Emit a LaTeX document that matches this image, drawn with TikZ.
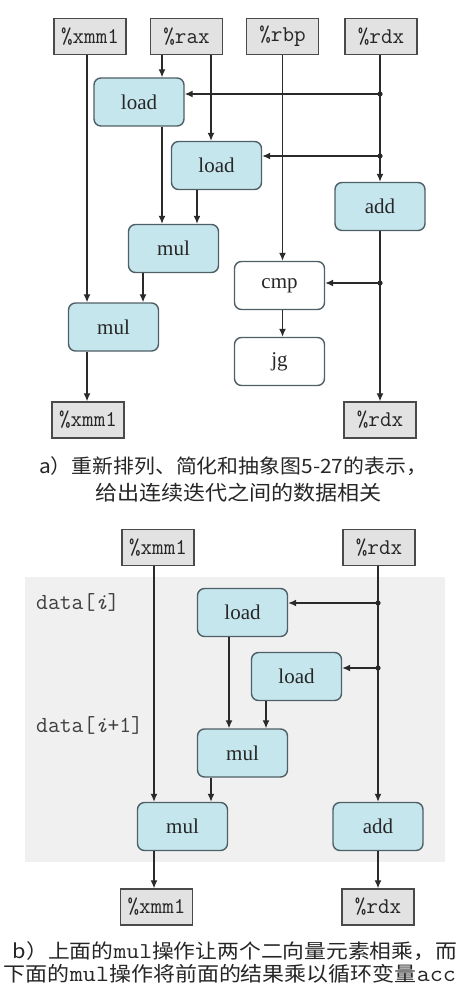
\documentclass[tikz,border=0pt]{standalone}
\usepackage{fontspec}
\setmainfont{Liberation Serif}
\newfontfamily\cjk{Noto Sans CJK SC}
\usetikzlibrary{arrows.meta}
\definecolor{opfill}{HTML}{C6E6EE}
\definecolor{opdraw}{HTML}{4F5F66}
\definecolor{regfill}{HTML}{E2E2E2}
\definecolor{regdraw}{HTML}{4A4A4A}
\definecolor{bgarea}{HTML}{F0F0F0}
\definecolor{wire}{HTML}{2A2A2A}
\newcommand{\capline}[3]{\resizebox*{#1}{#2}{\cjk\fontsize{20}{22}\selectfont #3}}
\newcommand{\captt}[1]{{\ttfamily\fontsize{23}{22}\selectfont #1}}
\begin{document}
\begin{tikzpicture}[x=1pt,y=-1pt,
  reg/.style={draw=regdraw, fill=regfill, line width=1.4pt, minimum width=72pt, minimum height=36pt, inner sep=0pt, font=\fontsize{22.5}{24}\ttfamily, text=black!85},
  op/.style={draw=opdraw, fill=opfill, rounded corners=7pt, line width=1.4pt, minimum width=90pt, minimum height=48pt, inner sep=0pt, font=\fontsize{21}{22}\selectfont, text=black!85},
  opw/.style={op, fill=white},
  wireline/.style={draw=wire, line width=1.3pt},
  arr/.style={wireline, -{Latex[length=8pt,width=7pt]}},
  captext/.style={inner sep=0pt, text=black!85},
  lbl/.style={inner sep=0pt, anchor=west, font=\fontsize{23}{24}\ttfamily, text=black!75},
]
\fill[white] (0,0) rectangle (459,992);
\useasboundingbox (0,0) rectangle (459,992);

% ---------- part a ----------
\node[reg] (ta_x) at (90,36.5) {\%xmm1};
\node[reg] (ta_a) at (186.5,36.5) {\%rax};
\node[reg] (ta_b) at (282.5,36.5) {\%rbp};
\node[reg] (ta_d) at (381,36.5) {\%rdx};
\node[op] (la1) at (139,102) {load};
\node[op] (la2) at (216.5,165.5) {load};
\node[op] (aa) at (380,206.5) {add};
\node[op] (ma1) at (173.5,248.5) {mul};
\node[opw] (ca) at (279.5,285.5) {cmp};
\node[opw] (ja) at (279.5,361.5) {jg};
\node[op] (ma2) at (113.5,327) {mul};
\node[reg] (ba_x) at (88,420) {\%xmm1};
\node[reg] (ba_d) at (380,420) {\%rdx};

\coordinate (da1) at (380,94);
\coordinate (da2) at (380,156);
\coordinate (da3) at (380,283);

\draw[arr] ([xshift=-3pt]ta_x.south) -- ([xshift=-3pt]ta_x.south |- ma2.north);
\draw[arr] ([xshift=-24.5pt]ta_a.south) -- ([xshift=-24.5pt]ta_a.south |- la1.north);
\draw[arr] ([xshift=24.5pt]ta_a.south) -- ([xshift=24.5pt]ta_a.south |- la2.north);
\draw[arr] (ta_b.south) -- (ta_b.south |- ca.north);
\draw[arr] (aa.north |- ta_d.south) -- (aa.north);
\draw[arr] (da1) -- (da1 -| la1.east);
\draw[arr] (da2) -- (da2 -| la2.east);
\draw[arr] (aa.south) -- (aa.south |- ba_d.north);
\draw[arr] (da3) -- (da3 -| ca.east);
\draw[arr] ([xshift=3pt]ca.south) -- ([xshift=3pt]ca.south |- ja.north);
\draw[arr] ([xshift=23pt]la1.south) -- ([xshift=23pt]la1.south |- ma1.north);
\draw[arr] ([xshift=-19.5pt]la2.south) -- ([xshift=-19.5pt]la2.south |- ma1.north);
\draw[arr] ([xshift=-30.5pt]ma1.south) -- ([xshift=-30.5pt]ma1.south |- ma2.north);
\draw[arr] ([xshift=-26.5pt]ma2.south) -- ([xshift=-26.5pt]ma2.south |- ba_x.north);
\foreach \d in {da1,da2,da3} \fill[wire] (\d) circle (2.6pt);

\node[captext] (capa1) at (233,466.5) {\capline{388pt}{19pt}{a）重新排列、简化和抽象图5-27的表示，}};
\node[captext] (capa2) at (238.5,493) {\capline{287pt}{19pt}{给出连续迭代之间的数据相关}};

% ---------- part b ----------
\fill[bgarea] (25,577) rectangle (445,862);
\node[reg] (tb_x) at (158,547.5) {\%xmm1};
\node[reg] (tb_d) at (379,547.5) {\%rdx};
\node[lbl] (di) at (36,602) {data[{\itshape i}]};
\node[lbl] (dj) at (36,725) {data[{\itshape i}+1]};
\node[op] (lb1) at (242.5,612.5) {load};
\node[op] (lb2) at (296.5,676.5) {load};
\node[op] (mb1) at (242.5,753) {mul};
\node[op] (mb2) at (182.5,826.5) {mul};
\node[op] (ab) at (378,826.5) {add};
\node[reg] (bb_x) at (156.5,907) {\%xmm1};
\node[reg] (bb_d) at (378,907) {\%rdx};

\coordinate (db1) at (378,603);
\coordinate (db2) at (378,668);

\draw[arr] ([xshift=-4pt]tb_x.south) -- ([xshift=-4pt]tb_x.south |- mb2.north);
\draw[arr] (ab.north |- tb_d.south) -- (ab.north);
\draw[arr] (db1) -- (db1 -| lb1.east);
\draw[arr] (db2) -- (db2 -| lb2.east);
\draw[arr] ([xshift=-13.5pt]lb1.south) -- ([xshift=-13.5pt]lb1.south |- mb1.north);
\draw[arr] ([xshift=-30.5pt]lb2.south) -- ([xshift=-30.5pt]lb2.south |- mb1.north);
\draw[arr] ([xshift=-31.5pt]mb1.south) -- ([xshift=-31.5pt]mb1.south |- mb2.north);
\draw[arr] ([xshift=-28.5pt]mb2.south) -- ([xshift=-28.5pt]mb2.south |- bb_x.north);
\draw[arr] (ab.south) -- (ab.south |- bb_d.north);
\foreach \d in {db1,db2} \fill[wire] (\d) circle (2.6pt);

\node[captext] (capb1) at (235,951.5) {\capline{444pt}{19pt}{b）上面的\captt{mul}操作让两个二向量元素相乘，而}};
\node[captext] (capb2) at (230,974) {\capline{452pt}{19pt}{下面的\captt{mul}操作将前面的结果乘以循环变量\captt{acc}}};
\end{tikzpicture}
\end{document}
